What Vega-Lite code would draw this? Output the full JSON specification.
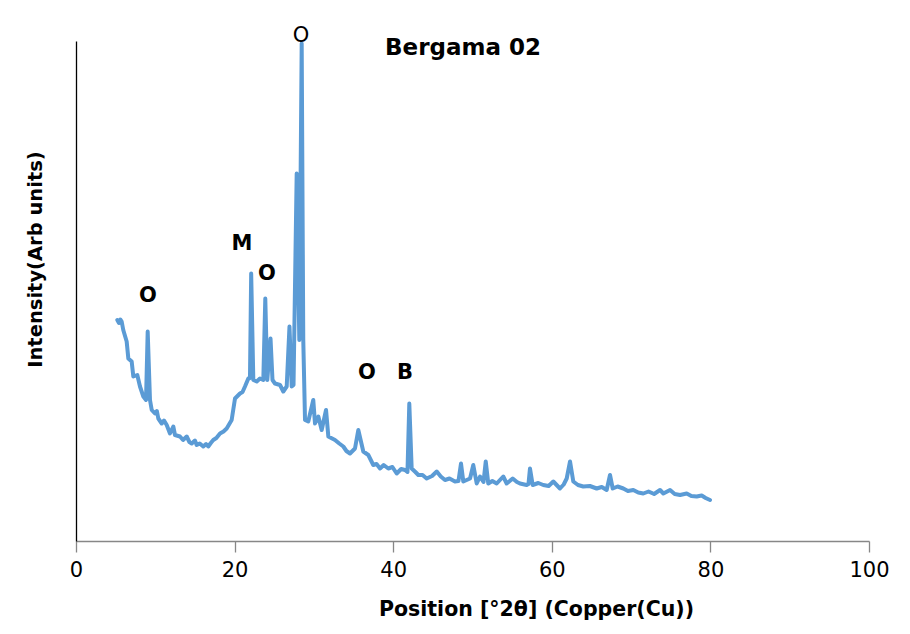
{
  "$schema": "https://vega.github.io/schema/vega-lite/v6.json",
  "width": 793,
  "height": 500,
  "autosize": {"type": "none"},
  "padding": {"left": 76, "top": 41, "right": 41, "bottom": 93},
  "background": "white",
  "config": {"view": {"stroke": null}},
  "datasets": {
    "xrd": [
      {"pos": 5.21, "intensity": 44.2}, {"pos": 5.42, "intensity": 43.6}, {"pos": 5.6, "intensity": 44.3},
      {"pos": 5.76, "intensity": 43.9}, {"pos": 5.96, "intensity": 42.2}, {"pos": 6.39, "intensity": 39.9},
      {"pos": 6.6, "intensity": 36.5}, {"pos": 7.02, "intensity": 35.9}, {"pos": 7.23, "intensity": 32.9},
      {"pos": 7.73, "intensity": 33.2}, {"pos": 8.07, "intensity": 30.9}, {"pos": 8.49, "intensity": 28.9},
      {"pos": 8.83, "intensity": 28.2}, {"pos": 9.04, "intensity": 41.9}, {"pos": 9.33, "intensity": 28.2},
      {"pos": 9.55, "intensity": 26.2}, {"pos": 9.96, "intensity": 25.5}, {"pos": 10.2, "intensity": 26.0},
      {"pos": 10.38, "intensity": 24.5}, {"pos": 10.81, "intensity": 23.5}, {"pos": 11.1, "intensity": 24.1},
      {"pos": 11.44, "intensity": 23.2}, {"pos": 11.85, "intensity": 21.5}, {"pos": 12.27, "intensity": 22.9},
      {"pos": 12.48, "intensity": 21.2}, {"pos": 13.11, "intensity": 20.9}, {"pos": 13.5, "intensity": 20.2},
      {"pos": 13.96, "intensity": 20.9}, {"pos": 14.3, "intensity": 19.8}, {"pos": 14.59, "intensity": 19.5},
      {"pos": 15.0, "intensity": 20.1}, {"pos": 15.22, "intensity": 19.2}, {"pos": 15.6, "intensity": 19.5},
      {"pos": 16.05, "intensity": 18.9}, {"pos": 16.4, "intensity": 19.4}, {"pos": 16.68, "intensity": 18.9},
      {"pos": 17.0, "intensity": 19.6}, {"pos": 17.31, "intensity": 20.2}, {"pos": 17.7, "intensity": 20.6},
      {"pos": 18.16, "intensity": 21.5}, {"pos": 18.6, "intensity": 21.9}, {"pos": 19.0, "intensity": 22.5},
      {"pos": 19.63, "intensity": 24.2}, {"pos": 20.05, "intensity": 28.5}, {"pos": 20.68, "intensity": 29.5},
      {"pos": 21.0, "intensity": 29.8}, {"pos": 21.31, "intensity": 30.9}, {"pos": 21.73, "intensity": 32.5},
      {"pos": 21.94, "intensity": 32.6}, {"pos": 22.09, "intensity": 53.5}, {"pos": 22.36, "intensity": 32.2},
      {"pos": 22.79, "intensity": 31.9}, {"pos": 23.2, "intensity": 32.5}, {"pos": 23.62, "intensity": 32.2},
      {"pos": 23.87, "intensity": 48.5}, {"pos": 24.12, "intensity": 32.2}, {"pos": 24.53, "intensity": 40.5},
      {"pos": 24.78, "intensity": 32.2}, {"pos": 25.09, "intensity": 31.5}, {"pos": 25.73, "intensity": 31.2},
      {"pos": 26.14, "intensity": 29.9}, {"pos": 26.57, "intensity": 30.9}, {"pos": 26.92, "intensity": 42.9},
      {"pos": 27.2, "intensity": 30.9}, {"pos": 27.43, "intensity": 31.2}, {"pos": 27.83, "intensity": 73.5},
      {"pos": 28.16, "intensity": 40.2}, {"pos": 28.46, "intensity": 99.5}, {"pos": 28.66, "intensity": 40.2},
      {"pos": 28.88, "intensity": 24.2}, {"pos": 29.29, "intensity": 23.9}, {"pos": 29.92, "intensity": 28.2},
      {"pos": 30.14, "intensity": 23.5}, {"pos": 30.56, "intensity": 24.9}, {"pos": 30.98, "intensity": 22.2},
      {"pos": 31.53, "intensity": 26.2}, {"pos": 31.82, "intensity": 20.9}, {"pos": 32.66, "intensity": 20.2},
      {"pos": 33.2, "intensity": 19.5}, {"pos": 33.71, "intensity": 18.9}, {"pos": 34.1, "intensity": 18.0},
      {"pos": 34.55, "intensity": 17.5}, {"pos": 35.18, "intensity": 18.5}, {"pos": 35.6, "intensity": 22.2},
      {"pos": 36.23, "intensity": 17.9}, {"pos": 36.86, "intensity": 17.2}, {"pos": 37.49, "intensity": 15.2},
      {"pos": 37.9, "intensity": 15.4}, {"pos": 38.34, "intensity": 14.5}, {"pos": 38.8, "intensity": 15.2},
      {"pos": 39.38, "intensity": 14.5}, {"pos": 39.9, "intensity": 14.8}, {"pos": 40.44, "intensity": 13.5},
      {"pos": 41.0, "intensity": 14.4}, {"pos": 41.49, "intensity": 14.2}, {"pos": 41.8, "intensity": 13.8},
      {"pos": 42.03, "intensity": 27.5}, {"pos": 42.33, "intensity": 14.5}, {"pos": 42.8, "intensity": 13.8},
      {"pos": 43.17, "intensity": 13.2}, {"pos": 43.7, "intensity": 13.2}, {"pos": 44.22, "intensity": 12.5},
      {"pos": 44.9, "intensity": 13.0}, {"pos": 45.49, "intensity": 13.9}, {"pos": 46.0, "intensity": 12.9},
      {"pos": 46.53, "intensity": 12.2}, {"pos": 47.1, "intensity": 12.5}, {"pos": 47.79, "intensity": 11.9},
      {"pos": 48.23, "intensity": 12.0}, {"pos": 48.55, "intensity": 15.5}, {"pos": 48.84, "intensity": 11.9},
      {"pos": 49.69, "intensity": 12.5}, {"pos": 50.1, "intensity": 15.2}, {"pos": 50.53, "intensity": 11.5},
      {"pos": 50.95, "intensity": 12.9}, {"pos": 51.39, "intensity": 11.8}, {"pos": 51.67, "intensity": 15.9},
      {"pos": 51.99, "intensity": 11.5}, {"pos": 52.5, "intensity": 12.0}, {"pos": 53.05, "intensity": 11.5},
      {"pos": 53.88, "intensity": 12.9}, {"pos": 54.31, "intensity": 11.5}, {"pos": 55.07, "intensity": 12.5},
      {"pos": 55.6, "intensity": 11.8}, {"pos": 55.99, "intensity": 11.5}, {"pos": 56.83, "intensity": 11.2},
      {"pos": 57.06, "intensity": 11.4}, {"pos": 57.25, "intensity": 14.5}, {"pos": 57.59, "intensity": 11.2},
      {"pos": 58.3, "intensity": 11.6}, {"pos": 58.93, "intensity": 11.2}, {"pos": 59.6, "intensity": 11.0},
      {"pos": 60.19, "intensity": 11.9}, {"pos": 61.03, "intensity": 10.5}, {"pos": 61.5, "intensity": 11.3},
      {"pos": 61.88, "intensity": 12.5}, {"pos": 62.3, "intensity": 15.9}, {"pos": 62.71, "intensity": 11.9},
      {"pos": 63.3, "intensity": 11.2}, {"pos": 63.97, "intensity": 10.9}, {"pos": 64.8, "intensity": 11.0},
      {"pos": 65.66, "intensity": 10.5}, {"pos": 66.3, "intensity": 10.8}, {"pos": 66.92, "intensity": 10.2},
      {"pos": 67.34, "intensity": 13.2}, {"pos": 67.68, "intensity": 10.5}, {"pos": 68.3, "intensity": 10.9},
      {"pos": 69.02, "intensity": 10.5}, {"pos": 69.6, "intensity": 10.0}, {"pos": 70.28, "intensity": 10.2},
      {"pos": 70.9, "intensity": 9.7}, {"pos": 71.54, "intensity": 9.5}, {"pos": 72.2, "intensity": 9.9},
      {"pos": 72.9, "intensity": 9.4}, {"pos": 73.65, "intensity": 10.2}, {"pos": 74.07, "intensity": 9.5},
      {"pos": 74.91, "intensity": 10.2}, {"pos": 75.5, "intensity": 9.4}, {"pos": 76.17, "intensity": 9.2},
      {"pos": 77.01, "intensity": 9.5}, {"pos": 77.6, "intensity": 9.0}, {"pos": 78.27, "intensity": 8.9},
      {"pos": 78.9, "intensity": 9.1}, {"pos": 79.4, "intensity": 8.6}, {"pos": 79.95, "intensity": 8.2}
    ],
    "boldLabels": [
      {"pos": 9.08, "intensity": 49.0, "label": "O"},
      {"pos": 20.93, "intensity": 59.4, "label": "M"},
      {"pos": 24.09, "intensity": 53.4, "label": "O"},
      {"pos": 36.7, "intensity": 33.6, "label": "O"},
      {"pos": 41.49, "intensity": 33.6, "label": "B"}
    ],
    "plainLabels": [
      {"pos": 28.37, "intensity": 101.0, "label": "O"}
    ]
  },
  "layer": [
    {
      "data": {"name": "xrd"},
      "mark": {"type": "line", "color": "#5B9BD5", "strokeWidth": 4, "strokeJoin": "round", "strokeCap": "round"},
      "encoding": {
        "x": {
          "field": "pos", "type": "quantitative",
          "scale": {"domain": [0, 100], "nice": false, "zero": false},
          "axis": {
            "title": "Position [°2θ] (Copper(Cu))",
            "values": [0, 20, 40, 60, 80, 100],
            "grid": false,
            "domainColor": "#878787", "domainWidth": 1.3,
            "tickColor": "#878787", "tickSize": 11, "tickWidth": 1.3,
            "labelFont": "DejaVu Sans", "labelFontSize": 21, "labelColor": "#000000", "labelPadding": 7,
            "labelFlush": false,
            "titleFont": "DejaVu Sans", "titleFontSize": 20.5, "titleFontWeight": "bold", "titleColor": "#000000",
            "titleBaseline": "middle", "titleY": 68, "titleX": 460
          }
        },
        "y": {
          "field": "intensity", "type": "quantitative",
          "scale": {"domain": [0, 100], "nice": false, "zero": false},
          "axis": {
            "title": "Intensity(Arb units)",
            "labels": false, "ticks": false, "grid": false,
            "domainColor": "#000000", "domainWidth": 1.3,
            "titleFont": "DejaVu Sans", "titleFontSize": 19.5, "titleFontWeight": "bold", "titleColor": "#000000",
            "titleAngle": -90, "titleAlign": "center", "titleBaseline": "middle", "titleX": -41, "titleY": 218
          }
        }
      }
    },
    {
      "data": {"name": "boldLabels"},
      "mark": {"type": "text", "font": "DejaVu Sans", "fontSize": 21, "fontWeight": "bold", "color": "#000000", "baseline": "middle", "align": "center"},
      "encoding": {
        "x": {"field": "pos", "type": "quantitative"},
        "y": {"field": "intensity", "type": "quantitative"},
        "text": {"field": "label"}
      }
    },
    {
      "data": {"name": "plainLabels"},
      "mark": {"type": "text", "font": "DejaVu Sans", "fontSize": 21, "color": "#000000", "baseline": "middle", "align": "center"},
      "encoding": {
        "x": {"field": "pos", "type": "quantitative"},
        "y": {"field": "intensity", "type": "quantitative"},
        "text": {"field": "label"}
      }
    },
    {
      "data": {"values": [{"pos": 48.8, "intensity": 98.6, "label": "Bergama 02"}]},
      "mark": {"type": "text", "font": "DejaVu Sans", "fontSize": 23, "fontWeight": "bold", "color": "#000000", "baseline": "middle", "align": "center"},
      "encoding": {
        "x": {"field": "pos", "type": "quantitative"},
        "y": {"field": "intensity", "type": "quantitative"},
        "text": {"field": "label"}
      }
    }
  ]
}
